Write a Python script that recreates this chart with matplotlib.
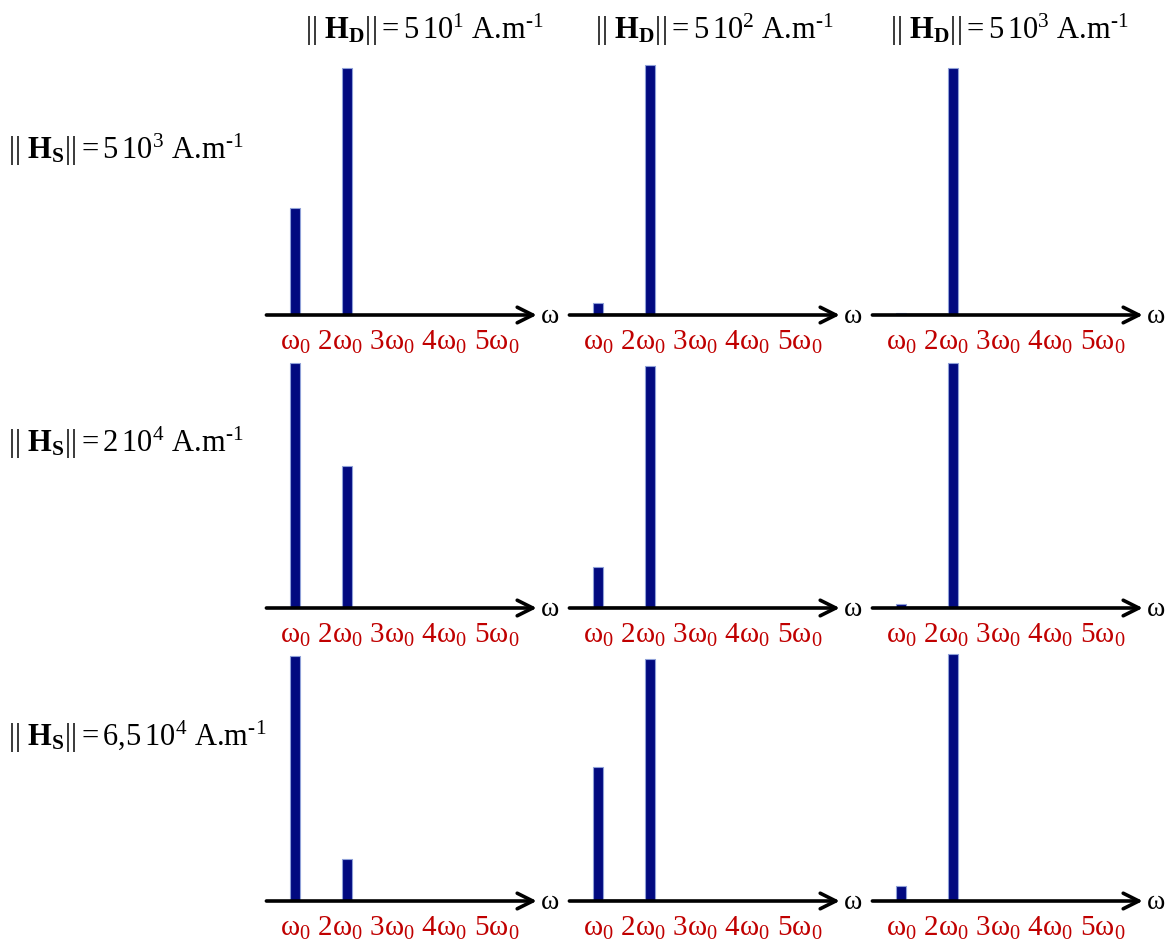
import matplotlib
matplotlib.use("Agg")
import matplotlib.pyplot as plt

plt.rcParams['font.family'] = ['Liberation Serif', 'DejaVu Serif']
plt.rcParams['mathtext.fontset'] = 'custom'
plt.rcParams['mathtext.rm'] = 'Liberation Serif'
plt.rcParams['mathtext.it'] = 'Liberation Serif:italic'
plt.rcParams['mathtext.bf'] = 'Liberation Serif:bold'
plt.rcParams['mathtext.default'] = 'rm'

# Data
harmonics = [1, 2]
tick_labels = ['ω$_0$', '2ω$_0$', '3ω$_0$', '4ω$_0$', '5ω$_0$']
col_fields = ['D', 'D', 'D']
col_values = ['5\\,10^{1}', '5\\,10^{2}', '5\\,10^{3}']
row_fields = ['S', 'S', 'S']
row_values = ['5\\,10^{3}', '2\\,10^{4}', '6{,}5\\,10^{4}']
# amplitudes [row][col] -> [omega0, 2 omega0]
amp_r1 = [[0.43, 0.99], [0.05, 1.00], [0.008, 0.99]]
amp_r2 = [[0.98, 0.57], [0.165, 0.97], [0.015, 0.98]]
amp_r3 = [[0.98, 0.17], [0.535, 0.97], [0.06, 0.99]]
amps = [amp_r1, amp_r2, amp_r3]


def title(field, value):
    return ('|| $\\mathbf{H}_\\mathbf{' + field + '}$||'
            + '$ = ' + value + '$ A.m$^{\u20101}$')


W, H = 1173, 943
fig = plt.figure(figsize=(W / 100, H / 100), dpi=100)

unit_x = 52.0   # px per omega0
unit_y = 250.0  # px per amplitude unit
col_w0 = [295, 598, 901]      # px x of omega0
row_axis = [315, 608, 901]    # px y of axis line (from top)
x0, x1 = 0.0, 6.6
y0, y1 = -0.25, 1.12

bar_color = '#020a80'
label_red = '#c00000'

for r in range(3):
    for c in range(3):
        left = col_w0[c] - unit_x * (1 - x0)
        width = unit_x * (x1 - x0)
        bottom_px = row_axis[r] - y0 * unit_y  # from top
        height = unit_y * (y1 - y0)
        ax = fig.add_axes([left / W, 1 - bottom_px / H, width / W, height / H])
        ax.set_xlim(x0, x1)
        ax.set_ylim(y0, y1)
        ax.axis('off')
        ax.patch.set_alpha(0)
        ax.bar(harmonics, amps[r][c], width=0.2, color=bar_color,
               edgecolor='#8fa0d8', linewidth=0.8, zorder=2)
        if c > 0:
            ax.plot([1, 2], [0.004, 0.004], color='#b0b0b0', lw=1.2, zorder=1)
        ax.annotate('', xy=(5.65, 0), xytext=(0.45, 0),
                    arrowprops=dict(arrowstyle='->', lw=2.6, color='black',
                                    mutation_scale=28, shrinkA=0, shrinkB=0),
                    zorder=3)
        ax.text(5.72, -0.005, 'ω', fontsize=20, ha='left', va='center')
        ax.text(0.72, -0.11, ' '.join(tick_labels), fontsize=21,
                color=label_red, ha='left', va='center')

col_title_x = [425, 715, 1010]
for c in range(3):
    fig.text(col_title_x[c] / W, 1 - 30 / H, title(col_fields[c], col_values[c]),
             fontsize=22, ha='center', va='center')

row_title_y = [150, 443, 737]
for r in range(3):
    fig.text(8 / W, 1 - row_title_y[r] / H, title(row_fields[r], row_values[r]),
             fontsize=22, ha='left', va='center')

fig.savefig('out.png', dpi=100, facecolor='white')
